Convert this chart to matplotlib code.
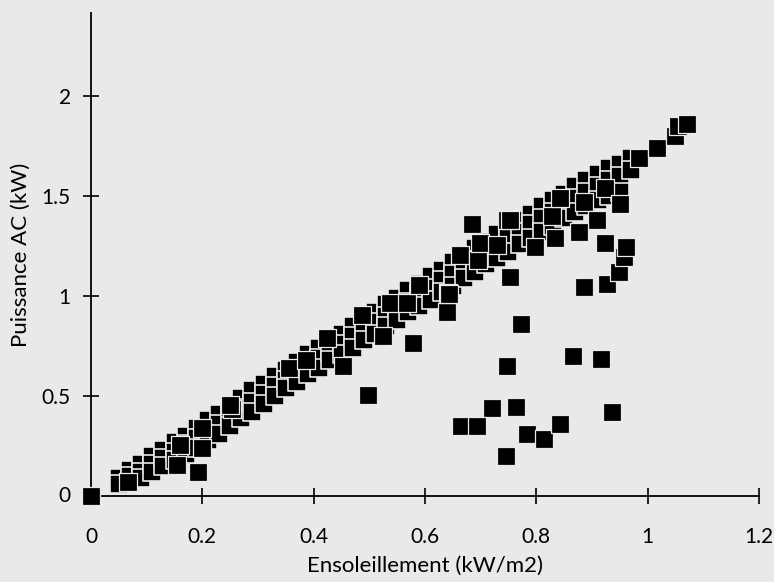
import matplotlib
matplotlib.use("Agg")
import matplotlib.pyplot as plt

# ---- data (kW/m2 -> kW) ----
band_x = [0.05, 0.05, 0.07, 0.07, 0.09, 0.09, 0.09, 0.11, 0.11, 0.11,
          0.13, 0.13, 0.13, 0.15, 0.15, 0.15, 0.17, 0.17, 0.17, 0.19,
          0.19, 0.19, 0.21, 0.21, 0.21, 0.23, 0.23, 0.23, 0.25, 0.25,
          0.25, 0.27, 0.27, 0.27, 0.29, 0.29, 0.29, 0.31, 0.31, 0.31,
          0.33, 0.33, 0.33, 0.35, 0.35, 0.35, 0.37, 0.37, 0.37, 0.39,
          0.39, 0.39, 0.41, 0.41, 0.41, 0.43, 0.43, 0.43, 0.45, 0.45,
          0.45, 0.47, 0.47, 0.47, 0.49, 0.49, 0.49, 0.51, 0.51, 0.51,
          0.53, 0.53, 0.53, 0.55, 0.55, 0.55, 0.57, 0.57, 0.57, 0.59,
          0.59, 0.59, 0.61, 0.61, 0.61, 0.63, 0.63, 0.63, 0.65, 0.65,
          0.65, 0.67, 0.67, 0.67, 0.69, 0.69, 0.69, 0.71, 0.71, 0.71,
          0.73, 0.73, 0.73, 0.75, 0.75, 0.75, 0.77, 0.77, 0.77, 0.79,
          0.79, 0.79, 0.81, 0.81, 0.81, 0.83, 0.83, 0.83, 0.85, 0.85,
          0.85, 0.87, 0.87, 0.87, 0.89, 0.89, 0.89, 0.91, 0.91, 0.91,
          0.93, 0.93, 0.93, 0.95, 0.95, 0.95, 0.97, 0.97]
band_y = [0.09, 0.06, 0.13, 0.10, 0.16, 0.12, 0.09, 0.20, 0.16, 0.12,
          0.23, 0.19, 0.15, 0.27, 0.22, 0.18, 0.30, 0.26, 0.21, 0.34,
          0.29, 0.24, 0.38, 0.33, 0.28, 0.41, 0.36, 0.31, 0.45, 0.40,
          0.35, 0.49, 0.44, 0.39, 0.53, 0.47, 0.42, 0.56, 0.51, 0.46,
          0.60, 0.55, 0.50, 0.63, 0.58, 0.54, 0.67, 0.62, 0.57, 0.71,
          0.66, 0.61, 0.74, 0.69, 0.64, 0.78, 0.72, 0.68, 0.81, 0.76,
          0.71, 0.85, 0.80, 0.74, 0.88, 0.83, 0.78, 0.92, 0.87, 0.81,
          0.96, 0.90, 0.85, 0.99, 0.94, 0.88, 1.03, 0.97, 0.92, 1.06,
          1.01, 0.95, 1.10, 1.04, 0.98, 1.13, 1.08, 1.02, 1.17, 1.11,
          1.05, 1.20, 1.15, 1.09, 1.24, 1.18, 1.12, 1.27, 1.22, 1.16,
          1.31, 1.25, 1.19, 1.34, 1.29, 1.22, 1.38, 1.32, 1.26, 1.41,
          1.36, 1.29, 1.45, 1.39, 1.32, 1.48, 1.42, 1.35, 1.51, 1.46,
          1.39, 1.55, 1.49, 1.42, 1.58, 1.52, 1.45, 1.61, 1.55, 1.48,
          1.64, 1.58, 1.50, 1.66, 1.60, 1.52, 1.69, 1.63]

pts_x = [0.00, 0.066, 0.154, 0.16, 0.192, 0.20, 0.199, 0.253, 0.25,
         0.355, 0.386, 0.424, 0.486, 0.537, 0.567, 0.525, 0.59, 0.642,
         0.663, 0.696, 0.698, 0.73, 0.747, 0.752, 0.798, 0.834, 0.828,
         0.843, 0.885, 0.924, 0.909, 0.95, 0.984, 1.017, 1.05, 1.055, 1.07,
         0.684, 0.752, 0.885, 0.927, 0.948, 0.958, 0.961, 0.923, 0.877,
         0.772, 0.578, 0.639, 0.644, 0.747, 0.866, 0.917, 0.936, 0.72,
         0.764, 0.664, 0.694, 0.784, 0.813, 0.842, 0.746, 0.498, 0.453]
pts_y = [0.00, 0.072, 0.155, 0.255, 0.12, 0.24, 0.34, 0.435, 0.455,
         0.64, 0.68, 0.79, 0.905, 0.963, 0.963, 0.80, 1.055, 1.013,
         1.205, 1.18, 1.263, 1.255, 1.38, 1.38, 1.247, 1.29, 1.40,
         1.49, 1.47, 1.54, 1.38, 1.46, 1.69, 1.74, 1.80, 1.85, 1.86,
         1.36, 1.097, 1.047, 1.06, 1.118, 1.197, 1.247, 1.263, 1.32,
         0.86, 0.763, 0.918, 1.01, 0.65, 0.70, 0.683, 0.418, 0.438,
         0.443, 0.35, 0.35, 0.31, 0.285, 0.36, 0.20, 0.505, 0.65]

x_ticks = [0.2, 0.4, 0.6, 0.8, 1.0, 1.2]
x_tick_labels = ["0.2", "0.4", "0.6", "0.8", "1", "1.2"]
y_ticks = [0.5, 1.0, 1.5, 2.0]
y_tick_labels = ["0.5", "1", "1.5", "2"]

bg = "#e9e9e9"
plt.rcParams['font.family'] = ['Lato', 'DejaVu Sans']

fig = plt.figure(figsize=(7.74, 5.82), dpi=100, facecolor=bg)
ax = fig.add_axes([0.1176, 0.1478, 0.863, 0.830])
ax.set_facecolor(bg)

ax.scatter(band_x, band_y, marker='s', s=165, c='black',
           edgecolors=bg, linewidths=1.2, clip_on=False, zorder=3)
ax.scatter(pts_x, pts_y, marker='s', s=175, c='black',
           edgecolors=bg, linewidths=0.9, clip_on=False, zorder=4)

ax.set_xlim(0, 1.2)
ax.set_ylim(0, 2.415)
for s in ['top', 'right']:
    ax.spines[s].set_visible(False)
for s in ['left', 'bottom']:
    ax.spines[s].set_linewidth(1.3)
    ax.spines[s].set_color('black')

ax.set_xticks(x_ticks)
ax.set_xticklabels(x_tick_labels)
ax.set_yticks(y_ticks)
ax.set_yticklabels(y_tick_labels)
ax.tick_params(axis='both', direction='inout', length=11, width=1.2,
               labelsize=15, colors='black')
ax.tick_params(axis='x', pad=17)
ax.tick_params(axis='y', pad=9)

# zero labels at origin (both axes)
ax.annotate("0", xy=(0, 0), xycoords='data', xytext=(0, -22.5),
            textcoords='offset points', ha='center', va='top', fontsize=15)
ax.annotate("0", xy=(0, 0), xycoords='data', xytext=(-14.5, 0),
            textcoords='offset points', ha='right', va='center', fontsize=15)

ax.set_xlabel("Ensoleillement (kW/m2)", fontsize=16, labelpad=6)
ax.set_ylabel("Puissance AC (kW)", fontsize=16, labelpad=8)

fig.savefig("out.png", dpi=100, facecolor=bg)
